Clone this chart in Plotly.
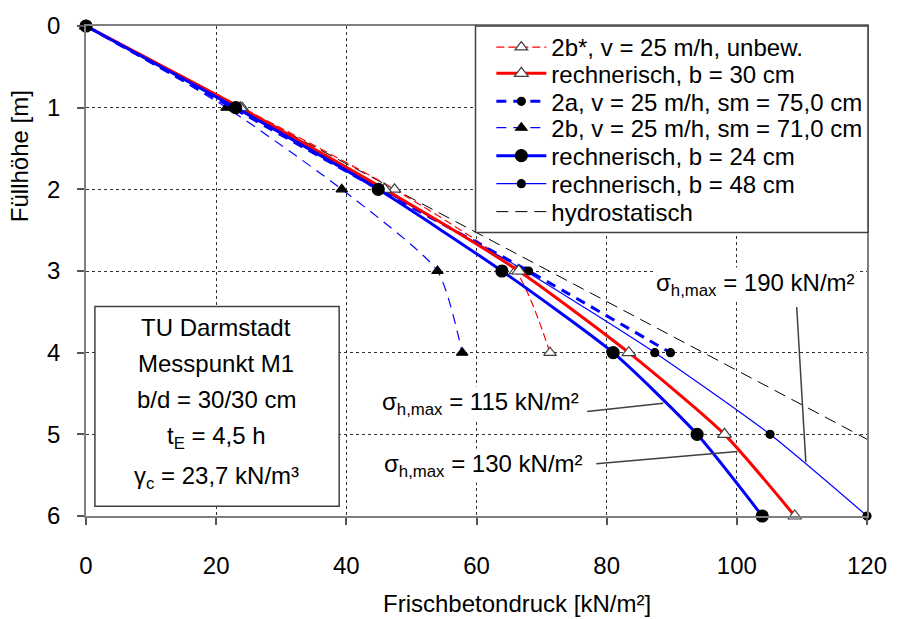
import plotly.graph_objects as go

# ---------------- data ----------------
depth = [0, 1, 2, 3, 4, 5, 6]
x_2bstar = [0, 24.0, 47.4, 66.0, 71.3]          # 2b*, unbew.
x_b30 = [0, 23.7, 45.9, 66.5, 83.4, 98.1, 108.9]  # rechnerisch b=30
x_2a = [0, 22.5, 45.0, 68.0, 89.8]               # 2a
x_2b = [0, 21.6, 39.3, 54.0, 57.8]               # 2b
x_b24 = [0, 23.0, 44.9, 63.9, 81.0, 93.9, 103.9]  # rechnerisch b=24
x_b48 = [0, 23.3, 45.4, 67.5, 87.4, 105.1, 120.0]  # rechnerisch b=48
hydro_x = [0, 120]
hydro_y = [0, 5.06]

names = [
    "2b*, v = 25 m/h, unbew.",
    "rechnerisch, b = 30 cm",
    "2a, v = 25 m/h, sm = 75,0 cm",
    "2b, v = 25 m/h, sm = 71,0 cm",
    "rechnerisch, b = 24 cm",
    "rechnerisch, b = 48 cm",
    "hydrostatisch",
]

x_ticks = [0, 20, 40, 60, 80, 100, 120]
y_ticks = [0, 1, 2, 3, 4, 5, 6]

box_lines = ["TU Darmstadt", "Messpunkt M1", "b/d = 30/30 cm",
             "t<sub>E</sub> = 4,5 h", "γ<sub>c</sub> = 23,7 kN/m³"]
sigma_labels = ["σ<sub>h,max</sub> = 190 kN/m²",
                "σ<sub>h,max</sub> = 115 kN/m²",
                "σ<sub>h,max</sub> = 130 kN/m²"]
sigma_pos = [(102.8, 3.17), (60.6, 4.62), (61.1, 5.38)]
leader_lines = [((109.2, 3.44), (110.6, 5.34)),
                ((77.0, 4.72), (88.7, 4.62)),
                ((78.4, 5.36), (100.1, 5.21))]

FONT = "Liberation Sans, Arial, sans-serif"
RED = "#ff0000"
BLUE = "#0000ff"

fig = go.Figure()

def add(x, y, name, color, width, dash, symbol, msize, mcolor, mline, lg):
    fig.add_trace(go.Scatter(
        x=x, y=y, name=name, mode="lines+markers" if symbol else "lines",
        line=dict(color=color, width=width, dash=dash, shape="spline", smoothing=0.6),
        marker=dict(symbol=symbol or "circle", size=msize, color=mcolor,
                    line=dict(color=mline, width=1.2)),
        cliponaxis=False, legend=lg,
    ))

add(hydro_x, hydro_y, names[6], "#000000", 1, "12px,7px", None, 0, "black", "black", "legend7")
add(x_2b, depth[:5], names[3], BLUE, 1.2, "10px,7px", "triangle-up", 10, "black", "black", "legend4")
add(x_2bstar, depth[:5], names[0], RED, 1.2, "8px,4px", "triangle-up", 11, "white", "#404040", "legend")
add(x_b48, depth, names[5], BLUE, 1.2, "solid", "circle", 8, "black", "black", "legend6")
add(x_2a, depth[:5], names[2], BLUE, 3, "10px,7px", "circle", 8, "black", "black", "legend3")
add(x_b30, depth, names[1], RED, 3, "solid", "triangle-up", 12, "white", "#404040", "legend2")
add(x_b24, depth, names[4], BLUE, 3, "solid", "circle", 12, "black", "black", "legend5")

# legends: one per row so the row spacing matches
row_px = [41.7, 68.3, 96.7, 123.3, 151.7, 180.0, 208.3]
legend_keys = ["legend", "legend2", "legend3", "legend4", "legend5", "legend6", "legend7"]
top_px, h_px = 20, 496
layout_legends = {}
for i, key in enumerate(legend_keys):
    layout_legends[key] = dict(
        x=0.519, xanchor="left", y=1 - (row_px[i] - top_px) / h_px, yanchor="middle",
        bgcolor="rgba(0,0,0,0)", borderwidth=0, itemwidth=50,
        font=dict(family=FONT, size=24, color="black"),
    )

shapes = [
    # legend frame
    dict(type="rect", xref="paper", yref="paper", x0=(480 - 86) / 790, x1=(877 - 86) / 790,
         y0=1 - (229 - 20) / 496, y1=1.0, line=dict(color="#404040", width=1.5),
         fillcolor="white", layer="above"),
    # info box
    dict(type="rect", xref="x", yref="y", x0=1.37, x1=38.9, y0=3.435, y1=5.88,
         line=dict(color="#404040", width=1.5), fillcolor="white", layer="above"),
]
for (a, b) in leader_lines:
    shapes.append(dict(type="line", xref="x", yref="y", x0=a[0], y0=a[1], x1=b[0], y1=b[1],
                       line=dict(color="#404040", width=1.5), layer="above"))

annotations = []
box_y = [3.69, 4.137, 4.572, 5.04, 5.53]
for t, yy in zip(box_lines, box_y):
    annotations.append(dict(x=20.0, y=yy, xref="x", yref="y", text=t, showarrow=False,
                            font=dict(family=FONT, size=24, color="black"),
                            xanchor="center", yanchor="middle"))
for t, (xx, yy) in zip(sigma_labels, sigma_pos):
    annotations.append(dict(x=xx, y=yy, xref="x", yref="y", text=t, showarrow=False,
                            font=dict(family=FONT, size=24, color="black"),
                            xanchor="center", yanchor="middle", bgcolor="white"))
annotations.append(dict(x=(522 - 86) / 790, y=-(605 - 516) / 496, xref="paper", yref="paper",
                        text="Frischbetondruck [kN/m²]", showarrow=False,
                        font=dict(family=FONT, size=24, color="black"),
                        xanchor="center", yanchor="middle"))
annotations.append(dict(x=(19 - 86) / 790, y=1 - (152 - 20) / 496, xref="paper", yref="paper",
                        text="Füllhöhe [m]", showarrow=False, textangle=-90,
                        font=dict(family=FONT, size=24, color="black"),
                        xanchor="center", yanchor="middle"))

axis_common = dict(
    showline=True, linecolor="#7f7f7f", linewidth=1.5, mirror=True,
    showgrid=True, gridcolor="#333333", gridwidth=1, griddash="3px,3px",
    zeroline=False, ticks="outside", tickcolor="#555555", ticklen=7, tickwidth=1.5,
    tickfont=dict(family=FONT, size=24, color="black"),
)

fig.update_layout(
    width=899, height=619,
    margin=dict(l=86, r=23, t=20, b=103),
    paper_bgcolor="white", plot_bgcolor="white",
    xaxis=dict(range=[0, 120], tickvals=x_ticks, ticktext=[str(v) for v in x_ticks],
               ticklabelstandoff=20, **axis_common),
    yaxis=dict(range=[6, 0], tickvals=y_ticks, ticktext=[str(v) for v in y_ticks],
               ticklabelstandoff=12, **axis_common),
    shapes=shapes, annotations=annotations, showlegend=True,
    **layout_legends,
)

fig.write_html("out.html")
